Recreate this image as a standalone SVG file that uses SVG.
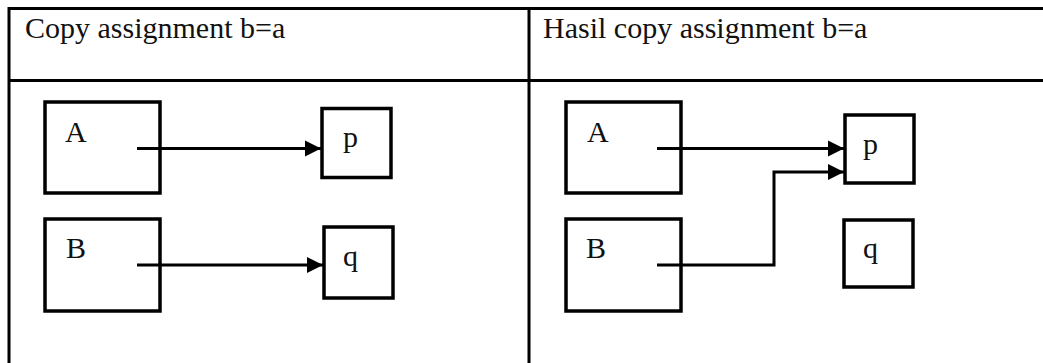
<svg xmlns="http://www.w3.org/2000/svg" width="1043" height="363" viewBox="0 0 1043 363">
  <style>
    .grid { stroke: #000; stroke-width: 3; fill: none; }
    .box { fill: #fff; stroke: #000; stroke-width: 3.5; }
    .lbl { font-family: "Liberation Serif", "Times New Roman", serif; font-size: 30px; fill: #111; }
    .conn { fill: none; stroke: #000; stroke-width: 3; }
  </style>
  <defs>
    <marker id="head" markerUnits="userSpaceOnUse" markerWidth="17" markerHeight="18" refX="16" refY="9" orient="auto">
      <path d="M0,1 L16,9 L0,17 z" fill="#000"/>
    </marker>
  </defs>
  <rect width="1043" height="363" fill="#fff"/>

  <!-- table frame -->
  <g id="table">
    <line class="grid" x1="8" y1="8.5" x2="1043" y2="8.5"/>
    <line class="grid" x1="8" y1="80.5" x2="1043" y2="80.5"/>
    <line class="grid" x1="9" y1="7" x2="9" y2="363"/>
    <line class="grid" x1="529" y1="7" x2="529" y2="363" stroke-width="2.5"/>
    <text class="lbl" x="25" y="37.5">Copy assignment b=a</text>
    <text class="lbl" x="543" y="37.5">Hasil copy assignment b=a</text>
  </g>

  <!-- left panel: before assignment -->
  <g id="left-A">
    <rect class="box" x="45" y="102" width="115" height="91"/>
    <text class="lbl" x="65" y="142">A</text>
  </g>
  <g id="left-B">
    <rect class="box" x="45" y="219" width="115" height="92"/>
    <text class="lbl" x="66" y="258">B</text>
  </g>
  <g id="left-p">
    <rect class="box" x="322" y="108.5" width="69" height="69"/>
    <text class="lbl" x="343" y="147">p</text>
  </g>
  <g id="left-q">
    <rect class="box" x="324" y="227" width="69" height="71"/>
    <text class="lbl" x="343" y="266">q</text>
  </g>

  <!-- right panel: after assignment -->
  <g id="right-A">
    <rect class="box" x="566" y="102" width="115" height="91"/>
    <text class="lbl" x="587" y="142">A</text>
  </g>
  <g id="right-B">
    <rect class="box" x="566" y="219" width="115" height="92"/>
    <text class="lbl" x="586" y="258">B</text>
  </g>
  <g id="right-p">
    <rect class="box" x="845" y="115" width="69" height="68"/>
    <text class="lbl" x="863" y="154">p</text>
  </g>
  <g id="right-q">
    <rect class="box" x="844" y="220" width="69" height="67"/>
    <text class="lbl" x="863" y="258">q</text>
  </g>

  <!-- pointers -->
  <g id="connectors">
    <line class="conn" x1="137" y1="148.5" x2="321" y2="148.5" marker-end="url(#head)"/>
    <line class="conn" x1="137" y1="265" x2="323" y2="265" marker-end="url(#head)"/>
    <line class="conn" x1="657" y1="148.5" x2="844" y2="148.5" marker-end="url(#head)"/>
    <polyline class="conn" points="657,265 774,265 774,172 844,172" marker-end="url(#head)"/>
  </g>
</svg>
